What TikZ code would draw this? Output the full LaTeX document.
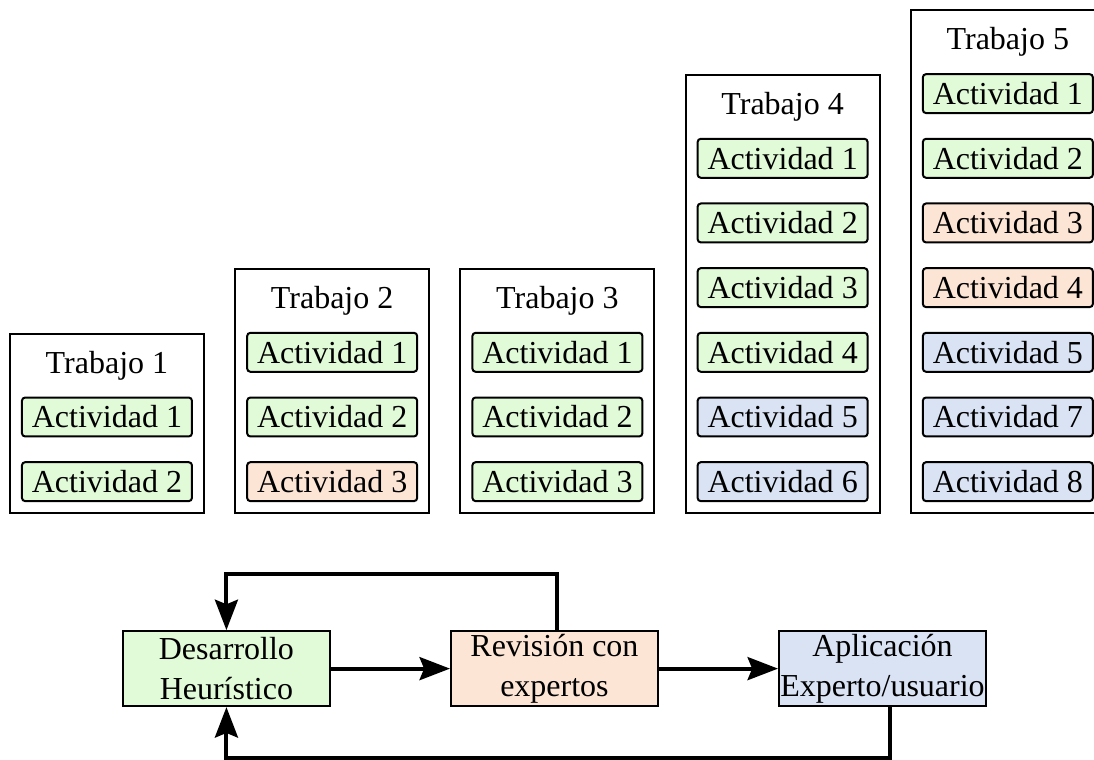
\documentclass[tikz,border=0pt]{standalone}
\usepackage{fontspec}
\setmainfont{Liberation Serif}
\usetikzlibrary{arrows.meta,positioning,fit}
\definecolor{actgreen}{HTML}{E1FAD7}
\definecolor{actorange}{HTML}{FDE5D6}
\definecolor{actblue}{HTML}{D9E3F4}
\tikzset{%
	>={Stealth[length=11.4pt,width=8.6pt,inset=1.7pt]},
	actividad/.style={rectangle, rounded corners=1.2pt, draw=black, line width=0.75pt, minimum width=63.75pt, minimum height=14.6pt, inner sep=0pt},
	verde/.style={actividad, fill=actgreen},
	naranja/.style={actividad, fill=actorange},
	azul/.style={actividad, fill=actblue},
	trabajo/.style={rectangle, draw=black, line width=0.75pt, inner xsep=4.1pt, inner ysep=3.9pt},
	etapa/.style={rectangle, draw=black, line width=0.75pt, minimum width=77.6pt, minimum height=28.1pt, inner sep=0pt},
	flecha/.style={->, line width=1.5pt}
}

\begin{document}
\begin{tikzpicture}[node distance=8.9pt and 19.95pt, align=center, font=\fontsize{12}{15}\selectfont]
\useasboundingbox (-40.1pt,-104.1pt) rectangle (370.1pt,180.6pt);

% fila inferior
\node (t1a2) [verde] {Actividad 2};
\node (t2a3) [naranja, right=of t1a2] {Actividad 3};
\node (t3a3) [verde, right=of t2a3] {Actividad 3};
\node (t4a6) [azul, right=of t3a3] {Actividad 6};
\node (t5a8) [azul, right=of t4a6] {Actividad 8};

% trabajo 1
\node (t1a1) [verde, above=of t1a2] {Actividad 1};
\coordinate (t1top) at ([yshift=19.7pt]t1a1.north);
\node (t1) [trabajo, fit=(t1a2)(t1top)] {};
\node (t1title) at ([yshift=-12.4pt]t1.north) {Trabajo 1};

% trabajo 2
\node (t2a2) [verde, above=of t2a3] {Actividad 2};
\node (t2a1) [verde, above=of t2a2] {Actividad 1};
\coordinate (t2top) at ([yshift=19.7pt]t2a1.north);
\node (t2) [trabajo, fit=(t2a3)(t2top)] {};
\node (t2title) at ([yshift=-12.4pt]t2.north) {Trabajo 2};

% trabajo 3
\node (t3a2) [verde, above=of t3a3] {Actividad 2};
\node (t3a1) [verde, above=of t3a2] {Actividad 1};
\coordinate (t3top) at ([yshift=19.7pt]t3a1.north);
\node (t3) [trabajo, fit=(t3a3)(t3top)] {};
\node (t3title) at ([yshift=-12.4pt]t3.north) {Trabajo 3};

% trabajo 4
\node (t4a5) [azul, above=of t4a6] {Actividad 5};
\node (t4a4) [verde, above=of t4a5] {Actividad 4};
\node (t4a3) [verde, above=of t4a4] {Actividad 3};
\node (t4a2) [verde, above=of t4a3] {Actividad 2};
\node (t4a1) [verde, above=of t4a2] {Actividad 1};
\coordinate (t4top) at ([yshift=19.7pt]t4a1.north);
\node (t4) [trabajo, fit=(t4a6)(t4top)] {};
\node (t4title) at ([yshift=-12.4pt]t4.north) {Trabajo 4};

% trabajo 5
\node (t5a7) [azul, above=of t5a8] {Actividad 7};
\node (t5a5) [azul, above=of t5a7] {Actividad 5};
\node (t5a4) [naranja, above=of t5a5] {Actividad 4};
\node (t5a3) [naranja, above=of t5a4] {Actividad 3};
\node (t5a2) [verde, above=of t5a3] {Actividad 2};
\node (t5a1) [verde, above=of t5a2] {Actividad 1};
\coordinate (t5top) at ([yshift=19.7pt]t5a1.north);
\node (t5) [trabajo, fit=(t5a8)(t5top)] {};
\node (t5title) at ([yshift=-12.4pt]t5.north) {Trabajo 5};

% ciclo
\node (desarrollo) [etapa, fill=actgreen] at (44.8pt,-70.1pt) {Desarrollo\\Heurístico};
\node (revision) [etapa, fill=actorange, right=44.65pt of desarrollo] {Revisión con\\expertos};
\node (aplicacion) [etapa, fill=actblue, right=44.65pt of revision] {Aplicación\\Experto/usuario};

\draw[flecha] (desarrollo) -- (revision);
\draw[flecha] (revision) -- (aplicacion);
\draw[flecha] ([xshift=1.1pt]revision.north) -- ++(0,21pt) -| (desarrollo.north);
\draw[flecha] ([xshift=2.8pt]aplicacion.south) -- ++(0,-19.1pt) -| (desarrollo.south);

\end{tikzpicture}
\end{document}
